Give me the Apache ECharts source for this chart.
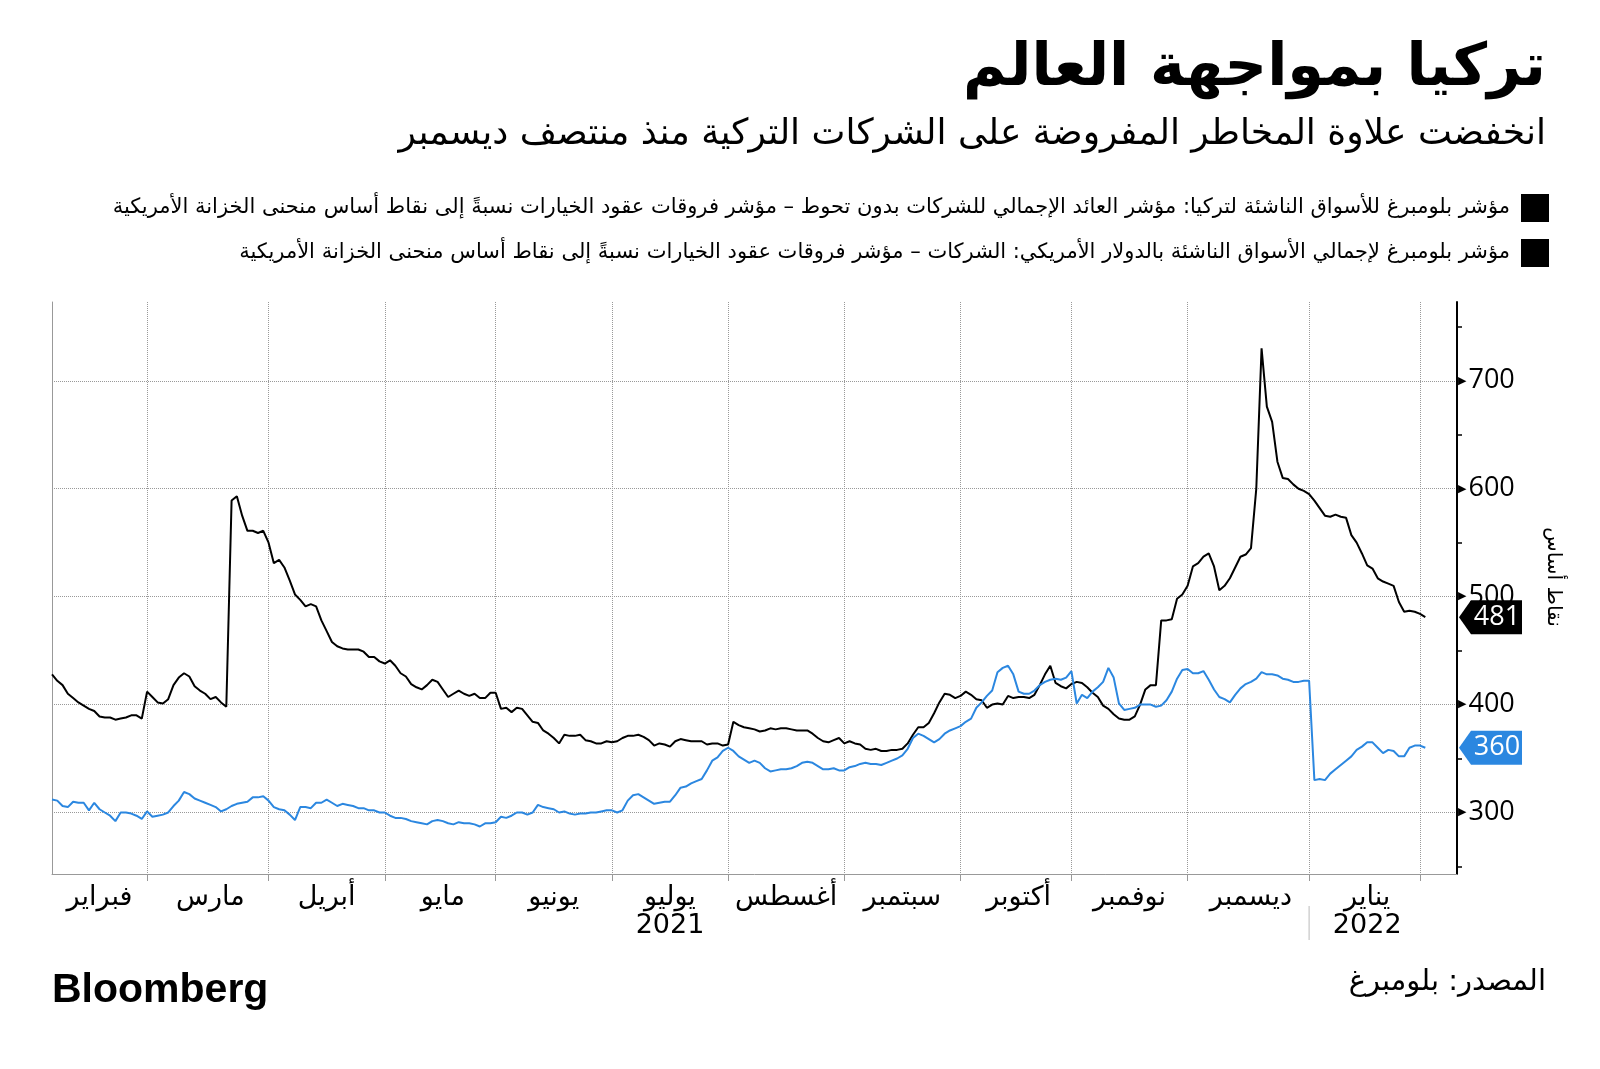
<!DOCTYPE html>
<html><head><meta charset="utf-8">
<script src="https://cdn.jsdelivr.net/npm/echarts@6/dist/echarts.min.js"></script>
<style>html,body{margin:0;padding:0;background:#fff}#c{width:1600px;height:1069px}</style>
</head><body><div id="c"></div>
<script>
// ---------- DATA ----------
const startDate = '2021-02-03';      // first weekday shown
const categoryCount = 267;           // weekdays on the axis (data + right padding)
const monthNames = ['يناير','فبراير','مارس','أبريل','مايو','يونيو','يوليو','أغسطس','سبتمبر','أكتوبر','نوفمبر','ديسمبر'];
const yearLabels = {'2021-07':'2021','2022-01':'2022'};
const seriesNames = [
  'مؤشر بلومبرغ للأسواق الناشئة لتركيا: مؤشر العائد الإجمالي للشركات بدون تحوط – مؤشر فروقات عقود الخيارات نسبةً إلى نقاط أساس منحنى الخزانة الأمريكية',
  'مؤشر بلومبرغ لإجمالي الأسواق الناشئة بالدولار الأمريكي: الشركات – مؤشر فروقات عقود الخيارات نسبةً إلى نقاط أساس منحنى الخزانة الأمريكية'
];
const turkeySpread = [
428,422,418,410,406,402,399,396,394,389,388,388,386,387,388,390,390,387,412,407,
402,401,405,418,425,429,426,417,413,410,405,407,402,398,589,593,575,561,561,559,
561,550,531,534,527,515,502,497,491,493,491,478,468,458,454,452,451,451,451,449,
444,444,440,438,441,436,429,426,419,416,414,418,423,421,414,407,410,413,410,408,
410,406,406,411,411,396,397,393,397,396,390,384,383,376,373,369,364,372,371,371,
372,367,366,364,364,366,365,366,369,371,371,372,370,367,362,364,363,361,366,368,
367,366,366,366,363,364,364,362,363,384,381,379,378,377,375,376,378,377,378,378,
377,376,376,376,373,369,366,365,367,369,364,366,364,363,359,358,359,357,357,358,
358,359,364,372,379,379,383,392,402,410,409,406,408,412,409,405,404,397,400,401,
400,408,406,407,407,406,409,418,428,436,420,417,415,419,421,420,416,411,407,399,
396,391,387,386,386,389,400,414,418,418,478,478,479,498,502,510,528,531,537,540,
528,506,510,517,527,537,539,545,600,730,676,662,625,610,609,604,600,598,595,589,
582,575,574,576,574,573,557,550,540,529,526,517,514,512,510,495,486,487,486,484,
481];
const emSpread = [
312,311,306,305,310,309,309,302,309,303,300,297,292,300,300,299,297,294,301,296,
297,298,300,306,311,319,317,313,311,309,307,305,301,303,306,308,309,310,314,314,
315,311,305,303,302,298,293,305,305,304,309,309,312,309,306,308,307,306,304,304,
302,302,300,300,297,295,295,294,292,291,290,289,292,293,292,290,289,291,290,290,
289,287,290,290,291,296,295,297,300,300,298,300,307,305,304,303,300,301,299,298,
299,299,300,300,301,302,302,300,302,311,316,317,314,311,308,309,310,310,316,323,
324,327,329,331,339,348,351,357,360,357,352,349,346,348,346,341,338,339,340,340,
341,343,346,347,346,343,340,340,341,339,339,342,343,345,346,345,345,344,346,348,
350,353,359,369,373,371,368,365,368,373,376,378,380,384,387,397,402,408,413,430,
434,436,428,412,410,410,413,418,421,423,424,423,425,431,401,409,406,412,416,421,
434,425,401,395,396,397,400,400,400,398,399,404,412,424,432,433,429,429,431,423,
414,407,405,402,409,415,419,421,424,430,428,428,427,424,423,421,421,422,422,330,
331,330,336,340,344,348,352,358,361,365,365,360,355,358,357,352,352,360,362,362,
360];
const yMajorTicks = [300,400,500,600,700];
const yMinorTicks = [250,350,450,550,650,750];
const yRange = [243, 773];
const titleText = 'تركيا بمواجهة العالم';
const subtitleText = 'انخفضت علاوة المخاطر المفروضة على الشركات التركية منذ منتصف ديسمبر';
const unitText = 'نقاط أساس';
const sourceText = 'المصدر: بلومبرغ';
const logoText = 'Bloomberg';

// ---------- BUILD ----------
function weekdays(start, n){
  const out=[]; const d=new Date(start+'T00:00:00Z');
  while(out.length<n){ const w=d.getUTCDay(); if(w!==0&&w!==6) out.push(d.toISOString().slice(0,10)); d.setUTCDate(d.getUTCDate()+1); }
  return out;
}
const dates = weekdays(startDate, categoryCount);
const monthStarts = [];
for(let i=1;i<dates.length;i++){ if(dates[i].slice(0,7)!==dates[i-1].slice(0,7)) monthStarts.push(i); }
const startSet = new Set(monthStarts);
const bounds = [0].concat(monthStarts);
const labelAt = {};
for(let k=0;k<bounds.length-1;k++){ labelAt[Math.round((bounds[k]+bounds[k+1])/2)] = dates[bounds[k]].slice(0,7); }

const AR = "'DejaVu Sans', sans-serif";
const NUM = "'Open Sans', 'Liberation Sans', sans-serif";
const BLUE = '#2b87e0';

const staticGraphics = [
  {type:'text', right:54, top:40, style:{text:titleText, font:"bold 59px 'DejaVu Sans'", fill:'#000', textAlign:'right'}},
  {type:'text', right:54, top:117, style:{text:subtitleText, font:"36px 'DejaVu Sans'", fill:'#000', textAlign:'right'}},
  {type:'rect', shape:{x:1521, y:194, width:28, height:28}, style:{fill:'#000'}},
  {type:'text', x:1510, y:208, style:{text:seriesNames[0], font:"21px 'DejaVu Sans'", fill:'#000', textAlign:'right', textVerticalAlign:'middle'}},
  {type:'rect', shape:{x:1521, y:239, width:28, height:28}, style:{fill:'#000'}},
  {type:'text', x:1510, y:253, style:{text:seriesNames[1], font:"21px 'DejaVu Sans'", fill:'#000', textAlign:'right', textVerticalAlign:'middle'}},
  {type:'text', x:1553, y:577, rotation:-Math.PI/2, style:{text:unitText, font:"20px 'DejaVu Sans'", fill:'#000', textAlign:'center', textVerticalAlign:'middle'}},
  {type:'text', x:1546, y:982, style:{text:sourceText, font:"29px 'DejaVu Sans'", fill:'#000', textAlign:'right', textVerticalAlign:'middle'}},
  {type:'text', x:52, y:991, style:{text:logoText, font:"bold 41px 'Liberation Sans'", fill:'#000', textAlign:'left', textVerticalAlign:'middle'}}
];

const option = {
  animation:false,
  backgroundColor:'#fff',
  grid:{left:52, right:143, top:302, bottom:195, containLabel:false},
  xAxis:{
    type:'category', data:dates, boundaryGap:false,
    axisLine:{show:true, lineStyle:{color:'#999', width:1}},
    axisTick:{show:true, interval:(i)=>startSet.has(i), length:7, lineStyle:{color:'#999'}},
    splitLine:{show:true, interval:(i)=>startSet.has(i), lineStyle:{type:'dotted', color:'#999', width:1}},
    axisLabel:{
      interval:(i)=>labelAt[i]!==undefined, margin:10,
      fontFamily:AR, fontSize:27, lineHeight:28, color:'#000',
      formatter:(v,i)=>{ const ym=labelAt[i]; if(!ym) return ''; const m=monthNames[parseInt(ym.slice(5,7),10)-1]; return yearLabels[ym]? m+'\n'+yearLabels[ym] : m; }
    }
  },
  yAxis:[
    {type:'value', position:'right', min:yRange[0], max:yRange[1],
     axisLine:{show:true, lineStyle:{color:'#000', width:2}},
     axisTick:{show:false},
     splitLine:{show:true, showMinLine:false, showMaxLine:false, lineStyle:{type:'dotted', color:'#999', width:1}},
     axisLabel:{show:true, showMinLabel:false, showMaxLabel:false, margin:1,
       formatter:(v)=> yMajorTicks.indexOf(v)>=0 ? '{t|▶}{v|'+v+'}' : '',
       rich:{t:{fontSize:11, color:'#000', fontFamily:AR}, v:{fontSize:27, color:'#000', fontFamily:NUM, padding:[0,0,0,2]}}}
    },
    {type:'value', position:'right', min:yRange[0], max:yRange[1],
     axisLine:{show:false}, axisLabel:{show:false}, splitLine:{show:false},
     axisTick:{show:true, customValues:yMinorTicks, length:5, lineStyle:{color:'#000', width:1.5}}
    },
    {type:'value', position:'left', min:yRange[0], max:yRange[1],
     axisLine:{show:true, lineStyle:{color:'#999', width:1}}, axisLabel:{show:false}, axisTick:{show:false}, splitLine:{show:false}
    }
  ],
  series:[
    {name:seriesNames[0], type:'line', data:turkeySpread, showSymbol:false, symbol:'none', lineStyle:{color:'#000', width:2}, itemStyle:{color:'#000'}, z:3},
    {name:seriesNames[1], type:'line', data:emSpread, showSymbol:false, symbol:'none', lineStyle:{color:BLUE, width:2}, itemStyle:{color:BLUE}, z:4}
  ],
  graphic:staticGraphics
};

const chart = echarts.init(document.getElementById('c'), null, {renderer:'canvas'});
chart.setOption(option);

// value tags on the axis and year separator, positioned via the chart's scales
const axisX = chart.convertToPixel({xAxisIndex:0}, dates[dates.length-1]);
function tag(val, color){
  const y = chart.convertToPixel({yAxisIndex:0}, val);
  const x0 = axisX + 2;
  return [
    {type:'polygon', z:100, shape:{points:[[x0,y],[x0+12,y-17],[x0+63,y-17],[x0+63,y+17],[x0+12,y+17]]}, style:{fill:color}},
    {type:'text', z:101, x:x0+38, y:y, style:{text:String(val), font:"27px 'Open Sans'", fill:'#fff', textAlign:'center', textVerticalAlign:'middle'}}
  ];
}
const janIdx = monthStarts.find(i=>dates[i].slice(0,7)==='2022-01');
const sepX = chart.convertToPixel({xAxisIndex:0}, dates[janIdx]);
const extra = []
  .concat(tag(turkeySpread[turkeySpread.length-1], '#000'))
  .concat(tag(emSpread[emSpread.length-1], BLUE))
  .concat([{type:'line', shape:{x1:sepX, y1:906, x2:sepX, y2:940}, style:{stroke:'#bbb', lineWidth:1}}]);
chart.setOption({graphic: staticGraphics.concat(extra)});
</script>
</body></html>
